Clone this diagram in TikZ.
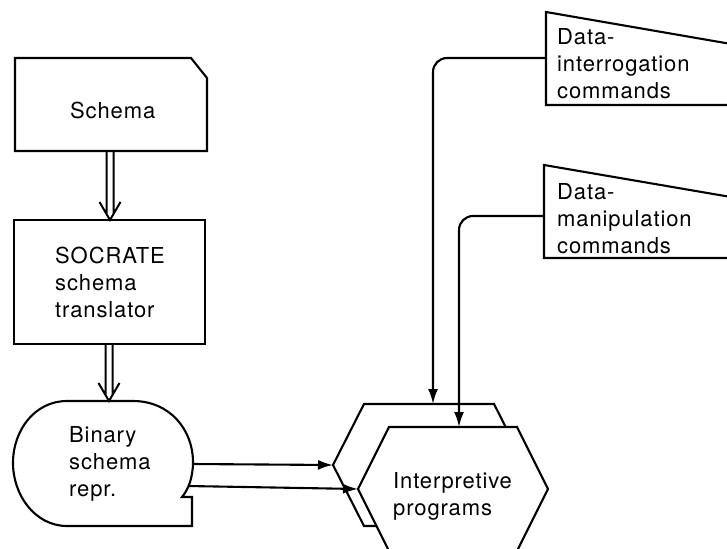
\documentclass[tikz,border=0pt]{standalone}
\usepackage{fontspec}
\setmainfont{TeX Gyre Heros}[LetterSpace=4]
\usetikzlibrary{arrows.meta,calc}
\begin{document}
\begin{tikzpicture}[x=1pt,y=-1pt,
  shapeline/.style={line width=2.1pt, line join=miter},
  lbl/.style={anchor=north west, inner sep=0pt, align=left, font=\fontsize{22}{27}\selectfont},
  flow/.style={line width=2.1pt, -{Latex[length=15pt,width=10pt]}},
  dblline/.style={line width=2pt},
  dblarrow/.style={to path={
    ($(\tikztostart)+(-3.5,0)$) -- ($(\tikztotarget)+(-3.5,-7)$)
    ($(\tikztostart)+(3.5,0)$) -- ($(\tikztotarget)+(3.5,-7)$)
    ($(\tikztotarget)+(-10.5,-18)$) -- (\tikztotarget) -- ($(\tikztotarget)+(10.5,-18)$)
  }}
]
\path[use as bounding box, clip] (0,0) rectangle (727,548);
\fill[white] (0,0) rectangle (727,548);

% Schema card
\draw[shapeline] (15,58) -- (191,58) -- (207,78) -- (207,151) -- (15,151) -- cycle;
\coordinate (schemaS) at (110,151);
\node[lbl] (schematxt) at (70,101.5) {Schema};

% SOCRATE box
\draw[shapeline] (14,220) rectangle (205,344);
\coordinate (socN) at (110,220);
\coordinate (socS) at (109,344);
\node[lbl] (soctxt) at (55,246.5) {SOCRATE\\schema\\translator};

% Binary schema repr.
\draw[shapeline] (67,401) -- (133,401)
  .. controls (170,401) and (193,430) .. (193,462)
  .. controls (193,478) and (188,490) .. (182,497)
  -- (192,497) -- (192,526) -- (67,526)
  .. controls (35,526) and (13,495) .. (13,463)
  .. controls (13,430) and (35,401) .. (67,401) -- cycle;
\coordinate (binN) at (109,401);
\coordinate (binE1) at (192,464);
\coordinate (binE2) at (188,486);
\node[lbl] (bintxt) at (69,426) {Binary\\schema\\repr.};

% Interpretive programs (two hexagons)
\draw[shapeline, fill=white] (333,465) -- (364,404) -- (494,404) -- (525,465) -- (494,526) -- (364,526) -- cycle;
\draw[shapeline, fill=white] (358,489) -- (389,427) -- (517,427) -- (548,489) -- (517,551) -- (389,551) -- cycle;
\coordinate (backW) at (333,465);
\coordinate (backN) at (433,404);
\coordinate (frontW) at (358,489);
\coordinate (frontN) at (459,427);
\node[lbl] (intp) at (393,472) {Interpretive\\programs};

% Data-interrogation commands
\draw[shapeline] (546,12) -- (760,49) -- (760,105) -- (546,105) -- cycle;
\coordinate (diW) at (546,58);
\node[lbl] (ditxt) at (557,28.5) {Data-\\interrogation\\commands};

% Data-manipulation commands
\draw[shapeline] (544,165) -- (760,202) -- (760,258) -- (544,258) -- cycle;
\coordinate (dmW) at (544,216);
\node[lbl] (dmtxt) at (557,183.5) {Data-\\manipulation\\commands};

% connectors
\draw[dblline, dblarrow] (schemaS) to (socN);
\draw[dblline, dblarrow] (socS) to (binN);
\draw[flow, rounded corners=14pt] (diW) -| (backN);
\draw[flow, rounded corners=14pt] (dmW) -| (frontN);
\draw[flow] (binE1) -- (backW);
\draw[flow] (binE2) -- (frontW);
\end{tikzpicture}
\end{document}
